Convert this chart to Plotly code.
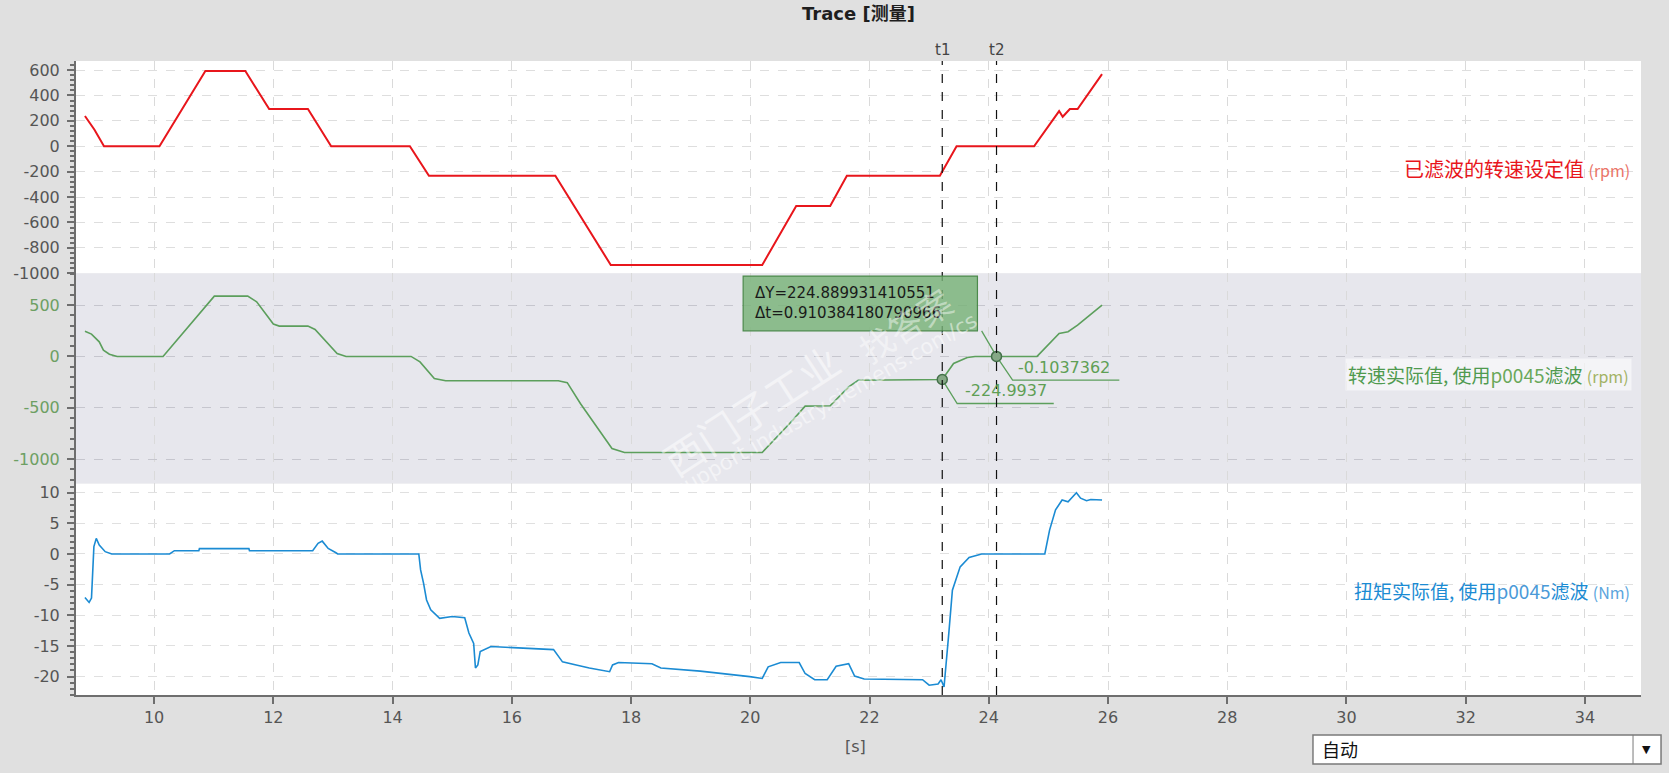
import plotly.graph_objects as go

# ---- data ----
# filtered speed setpoint (rpm)
setpoint_t = [8.84, 9.0, 9.16, 10.09, 10.86, 11.53, 11.93, 12.58, 12.97, 14.29, 14.61,
              16.73, 17.66, 20.2, 20.77, 21.34, 21.62, 23.18, 23.46, 24.76, 25.18, 25.24,
              25.36, 25.49, 25.9]
setpoint_v = [238, 130, 0, 0, 592, 592, 293, 293, 0, 0, -233,
              -233, -935, -935, -470, -470, -233, -233, 0, 0, 277, 232,
              293, 293, 568]

# speed actual value, smoothed with p0045 (rpm)
speed_t = [8.84, 8.95, 9.08, 9.15, 9.25, 9.38, 10.15, 11.01, 11.57, 11.72, 12.0, 12.1,
           12.58, 12.7, 13.07, 13.22, 14.31, 14.46, 14.7, 14.89, 16.78, 16.93, 17.15,
           17.68, 17.89, 20.2, 20.66, 20.92, 21.34, 21.65, 21.81, 23.15, 23.22, 23.41,
           23.64, 23.77, 24.81, 25.18, 25.33, 25.49, 25.9]
speed_v = [246, 217, 142, 61, 22, 0, 0, 587, 587, 532, 315, 295,
           295, 262, 29, 0, 0, -53, -214, -237, -237, -255, -458,
           -896, -935, -935, -653, -484, -480, -296, -232, -232, -225, -68,
           -10, 0, 0, 224, 240, 305, 500]

# torque actual value, smoothed with p0045 (Nm)
torque_t = [8.84, 8.91, 8.95, 8.97, 8.99, 9.03, 9.08, 9.18, 9.29, 10.26, 10.34, 10.75,
            10.76, 11.59, 11.6, 12.66, 12.75, 12.82, 12.92, 13.05, 13.08, 14.44, 14.47,
            14.52, 14.57, 14.64, 14.79, 15.0, 15.21, 15.28, 15.36, 15.39, 15.43, 15.47,
            15.54, 15.65, 16.7, 16.85, 17.08, 17.3, 17.64, 17.69, 17.79, 18.35, 18.5,
            19.16, 19.99, 20.2, 20.3, 20.51, 20.82, 20.92, 21.08, 21.29, 21.44, 21.65,
            21.75, 21.91, 22.89, 23.0, 23.15, 23.2, 23.25, 23.29, 23.33, 23.39, 23.52,
            23.67, 23.88, 24.94, 25.02, 25.12, 25.23, 25.33, 25.47, 25.54, 25.64, 25.71,
            25.9]
torque_v = [-7.1, -7.9, -7.2, -2.9, 1.2, 2.55, 1.47, 0.38, 0, 0, 0.54, 0.54,
            0.87, 0.87, 0.54, 0.54, 1.74, 2.1, 0.9, 0.2, 0, 0, -2.6,
            -4.8, -7.5, -9.1, -10.5, -10.2, -10.4, -12.9, -14.6, -18.6, -18.1, -15.9,
            -15.6, -15.1, -15.6, -17.6, -18.1, -18.6, -19.2, -18.1, -17.7, -17.9, -18.6,
            -19.1, -20.0, -20.3, -18.4, -17.7, -17.7, -19.5, -20.5, -20.5, -18.3, -17.9,
            -19.9, -20.4, -20.5, -21.4, -21.2, -20.5, -21.7, -17.8, -12.9, -5.9, -2.1,
            -0.55, 0, 0, 3.9, 7.2, 8.8, 8.5, 10.0, 9.1, 8.7, 8.9,
            8.8]

# measuring cursors
cursor_names = ["t1", "t2"]
cursor_t = [23.22, 24.13]
cursor_v = [-224.9937, -0.1037362]
cursor_text = ["-224.9937", "-0.1037362"]
delta_text = "ΔY=224.889931410551<br>Δt=0.910384180790966"

x_ticks = list(range(10, 36, 2))
top_ticks = [600, 400, 200, 0, -200, -400, -600, -800, -1000]
mid_ticks = [500, 0, -500, -1000]
bot_ticks = [10, 5, 0, -5, -10, -15, -20]

RED = "#e8161c"
GREEN = "#5c9f5c"
BLUE = "#1b8bd3"
AXIS = "#6e6e6e"
TICKFONT = "DejaVu Sans, Noto Sans CJK SC"
CJK = "Noto Sans CJK SC, Noto Sans"

fig = go.Figure()
fig.add_trace(go.Scatter(x=setpoint_t, y=setpoint_v, mode="lines", yaxis="y",
                         line=dict(color=RED, width=2)))
fig.add_trace(go.Scatter(x=speed_t, y=speed_v, mode="lines", yaxis="y2",
                         line=dict(color=GREEN, width=1.6)))
fig.add_trace(go.Scatter(x=torque_t, y=torque_v, mode="lines", yaxis="y3",
                         line=dict(color=BLUE, width=1.6)))

# cursor leader lines (marker -> elbow -> underline of value label)
leader_x = [cursor_t[0], 23.47, 25.09, None, cursor_t[1], 24.40, 26.19]
leader_y = [cursor_v[0], -458, -458, None, cursor_v[1], -231, -231]
fig.add_trace(go.Scatter(x=leader_x, y=leader_y, mode="lines", yaxis="y2",
                         line=dict(color=GREEN, width=1.3), hoverinfo="skip"))
# pointer from the delta box to t2
fig.add_trace(go.Scatter(x=[23.88, cursor_t[1]], y=[249, cursor_v[1]], mode="lines",
                         yaxis="y2", line=dict(color=GREEN, width=1.3), hoverinfo="skip"))
fig.add_trace(go.Scatter(x=cursor_t, y=cursor_v, mode="markers", yaxis="y2",
                         marker=dict(size=10, color="#86a886",
                                     line=dict(color="#44704a", width=1.5))))


def ax_common(ticks, tickcolor="#555555"):
    return dict(
        tickmode="array", tickvals=ticks, ticktext=[str(v) for v in ticks],
        showgrid=True, griddash="dash", zeroline=False,
        showline=True, linecolor=AXIS, linewidth=2,
        ticks="outside", ticklen=7, tickcolor=AXIS, tickwidth=1.5,
        tickfont=dict(family=TICKFONT, size=16, color=tickcolor),
        ticklabelstandoff=4, anchor="x", fixedrange=True,
    )


yaxis_top = ax_common(top_ticks)
yaxis_top.update(domain=[0.6651, 1], range=[-1000.5, 671], gridcolor="#dedede",
                 minor=dict(tickmode="linear", tick0=0, dtick=40, ticks="outside",
                            ticklen=4, tickcolor=AXIS, showgrid=False))
yaxis_mid = ax_common(mid_ticks, tickcolor="#6d9f63")
yaxis_mid.update(domain=[0.3336, 0.6651], range=[-1237, 809], gridcolor="#c6c6ce",
                 minor=dict(tickmode="linear", tick0=0, dtick=100, ticks="outside",
                            ticklen=4, tickcolor=AXIS, showgrid=False))
yaxis_bot = ax_common(bot_ticks)
yaxis_bot.update(domain=[0, 0.3336], range=[-23, 11.5], gridcolor="#e0e0e0",
                 minor=dict(tickmode="linear", tick0=0, dtick=1, ticks="outside",
                            ticklen=4, tickcolor=AXIS, showgrid=False))

fig.update_layout(
    width=1669, height=773,
    margin=dict(l=76, r=28, t=61, b=78),
    paper_bgcolor="#e0e0e0", plot_bgcolor="white",
    showlegend=False,
    title=dict(text="<b>Trace [测量]</b>", x=0.5, xref="paper", xanchor="center",
               y=1 - 13.5 / 773, yref="container", yanchor="middle",
               font=dict(family="DejaVu Sans, Noto Sans CJK SC", size=18, color="#1e1e1e")),
    xaxis=dict(domain=[0, 1], anchor="y3", range=[8.69, 34.94],
               tickmode="array", tickvals=x_ticks, ticktext=[str(v) for v in x_ticks],
               showgrid=True, gridcolor="#dadada", griddash="dash", zeroline=False,
               showline=True, linecolor=AXIS, linewidth=2,
               ticks="outside", ticklen=7, tickcolor=AXIS, tickwidth=1.5,
               tickfont=dict(family=TICKFONT, size=16, color="#555555"), fixedrange=True),
    yaxis=yaxis_top, yaxis2=yaxis_mid, yaxis3=yaxis_bot,
)

# grey band behind the middle channel
fig.add_shape(type="rect", xref="paper", yref="paper", x0=0, x1=1, y0=0.3336, y1=0.6651,
              fillcolor="#e7e7ed", line_width=0, layer="below")

# cursors t1 / t2
for name, t in zip(cursor_names, cursor_t):
    fig.add_shape(type="line", xref="x", yref="paper", x0=t, x1=t, y0=0, y1=1,
                  line=dict(color="#111111", width=1.2, dash="dash"))
    fig.add_annotation(x=t, y=1, xref="x", yref="paper", text=name, showarrow=False,
                       yanchor="bottom", yshift=0,
                       font=dict(family=TICKFONT, size=15, color="#444444"))

# delta box
fig.add_shape(type="rect", xref="x", yref="y2", x0=19.88, x1=23.81, y0=249, y1=782,
              fillcolor="rgba(120,178,120,0.82)", line=dict(color="#4c8a4c", width=1.2))
fig.add_annotation(x=20.05, y=(782 + 249) / 2, xref="x", yref="y2", text=delta_text,
                   showarrow=False, xanchor="left", yanchor="middle", align="left",
                   font=dict(family=TICKFONT, size=15, color="#1a1a1a"))

# cursor value labels
fig.add_annotation(x=23.57, y=-458, xref="x", yref="y2", text=cursor_text[0],
                   showarrow=False, xanchor="left", yanchor="bottom", yshift=1,
                   font=dict(family=TICKFONT, size=16, color="#5f9f55"))
fig.add_annotation(x=24.46, y=-231, xref="x", yref="y2", text=cursor_text[1],
                   showarrow=False, xanchor="left", yanchor="bottom", yshift=1,
                   font=dict(family=TICKFONT, size=16, color="#5f9f55"))

# channel names on the right
fig.add_annotation(x=0.9945, y=0.830, xref="paper", yref="paper", xanchor="right",
                   yanchor="middle", showarrow=False,
                   text="已滤波的转速设定值 <span style='font-size:16px;color:#ea7468'>(rpm)</span>",
                   font=dict(family=CJK, size=20, color=RED))
fig.add_annotation(x=0.9945, y=0.505, xref="paper", yref="paper", xanchor="right",
                   yanchor="middle", showarrow=False, bgcolor="rgba(255,255,255,0.55)",
                   borderpad=2,
                   text="转速实际值, 使用<span style='color:#6aa85a'>p0045</span>滤波 "
                        "<span style='font-size:16px;color:#a2b264'>(rpm)</span>",
                   font=dict(family=CJK, size=19, color="#4f9a4f"))
fig.add_annotation(x=0.9945, y=0.1656, xref="paper", yref="paper", xanchor="right",
                   yanchor="middle", showarrow=False,
                   text="扭矩实际值, 使用<span style='color:#4a9ad8'>p0045</span>滤波 "
                        "<span style='font-size:16px;color:#5aa5dd'>(Nm)</span>",
                   font=dict(family=CJK, size=19, color=BLUE))

# x axis unit
fig.add_annotation(x=0.4982, y=-0.0815, xref="paper", yref="paper", text="[s]",
                   showarrow=False, yanchor="middle",
                   font=dict(family=TICKFONT, size=16, color="#555555"))

# watermark
fig.add_annotation(x=0.431, y=0.449, xref="paper", yref="paper", text="西门子工业",
                   showarrow=False, textangle=-33,
                   font=dict(family=CJK, size=40, color="rgba(255,255,255,0.5)"))
fig.add_annotation(x=0.479, y=0.457, xref="paper", yref="paper",
                   text="support.industry.siemens.com/cs", showarrow=False, textangle=-30,
                   font=dict(family=TICKFONT, size=21, color="rgba(255,255,255,0.5)"))
fig.add_annotation(x=0.530, y=0.584, xref="paper", yref="paper", text="找答案",
                   showarrow=False, textangle=-33,
                   font=dict(family=CJK, size=34, color="rgba(255,255,255,0.45)"))

# "auto" drop-down box under the plot
fig.add_shape(type="rect", xref="paper", yref="paper", x0=0.7904, x1=1.0128,
              y0=-0.1088, y1=-0.063, fillcolor="white", line=dict(color="#7a7a7a", width=1.5))
fig.add_shape(type="line", xref="paper", yref="paper", x0=0.9949, x1=0.9949,
              y0=-0.1088, y1=-0.063, line=dict(color="#7a7a7a", width=1))
fig.add_annotation(x=0.7950, y=-0.0859, xref="paper", yref="paper", text="自动",
                   showarrow=False, xanchor="left", yanchor="middle",
                   font=dict(family=CJK, size=18, color="#111111"))
fig.add_annotation(x=1.0038, y=-0.0859, xref="paper", yref="paper", text="▼",
                   showarrow=False, xanchor="center", yanchor="middle",
                   font=dict(family=TICKFONT, size=11, color="#111111"))

# page body has an 8px default margin; drop it so the figure sits at 0,0
fig.write_html("out.html", config={"displayModeBar": False},
               post_script="document.body.style.margin='0';")
